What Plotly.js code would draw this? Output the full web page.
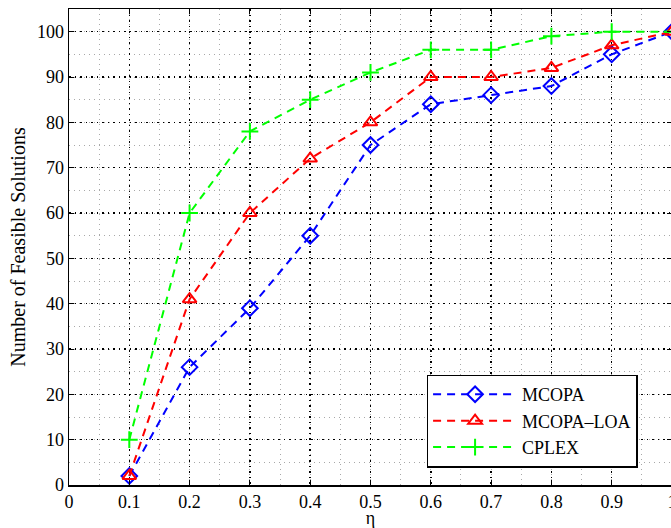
<!DOCTYPE html>
<html><head><meta charset="utf-8">
<script src="https://cdn.plot.ly/plotly-3.0.1.min.js"></script>
<style>html,body{margin:0;padding:0;overflow:hidden;background:#fff;}</style>
</head><body><div id="chart"></div>
<script>
const eta = [0.1,0.2,0.3,0.4,0.5,0.6,0.7,0.8,0.9,1.0];
const mcopa = [2,26,39,55,75,84,86,88,95,100];
const mcopaLoa = [2,41,60,72,80,90,90,92,97,100];
const cplex = [10,60,78,85,91,96,96,99,100,100];
const xTicks = [0,0.1,0.2,0.3,0.4,0.5,0.6,0.7,0.8,0.9,1];
const xTickText = ['0','0.1','0.2','0.3','0.4','0.5','0.6','0.7','0.8','0.9','1'];
const yTicks = [0,10,20,30,40,50,60,70,80,90,100];

const font = '"Liberation Serif", "Times New Roman", serif';
function tr(name, y, color, symbol){
  return {x: eta, y: y, name: name, type:'scatter', mode:'lines+markers',
    line:{color:color, width:2, dash:'8px,6px'},
    marker:{symbol:symbol, size:12, color:color, line:{color:color, width:2}}};
}
const data = [
  tr('MCOPA', mcopa, '#0000ff', 'diamond-open'),
  tr('MCOPA\u2013LOA', mcopaLoa, '#ff0000', 'triangle-up-open'),
  tr('CPLEX', cplex, '#00ff00', 'cross-thin-open')
];
const axisCommon = {
  showline:true, linecolor:'#000', linewidth:1.5, mirror:'ticks',
  ticks:'inside', ticklen:5, tickcolor:'#000', tickwidth:1,
  showgrid:true, gridcolor:'#000', griddash:'1.5px,4px', gridwidth:1.5,
  zeroline:false, tickfont:{family:font, size:18, color:'#000'}
};
const layout = {
  width:700, height:528,
  margin:{l:69, r:28, t:9, b:43},
  paper_bgcolor:'#fff', plot_bgcolor:'#fff',
  font:{family:font},
  showlegend:true,
  xaxis: Object.assign({}, axisCommon, {
    range:[0,1], tickmode:'array', tickvals:xTicks, ticktext:xTickText,
    minor:{dtick:0.05, tick0:0, showgrid:true, gridcolor:'#a8a8a8', griddash:'1px,4px', gridwidth:1, ticks:''},
    title:{text:'\u03b7', font:{family:font, size:18, color:'#000'}, standoff:3}
  }),
  yaxis: Object.assign({}, axisCommon, {
    range:[0,105], tickmode:'array', tickvals:yTicks,
    minor:{dtick:5, tick0:0, showgrid:true, gridcolor:'#a8a8a8', griddash:'1px,4px', gridwidth:1, ticks:''},
    title:{text:'Number of Feasible Solutions', font:{family:font, size:20, color:'#000'}, standoff:6}
  }),
  legend:{x:0.593, y:0.232, xanchor:'left', yanchor:'top',
    bgcolor:'#fff', bordercolor:'#000', borderwidth:1.5,
    font:{family:font, size:18, color:'#000'}, itemwidth:84, tracegroupgap:0}
};
Plotly.newPlot('chart', data, layout, {displayModeBar:false, staticPlot:true});
</script></body></html>
